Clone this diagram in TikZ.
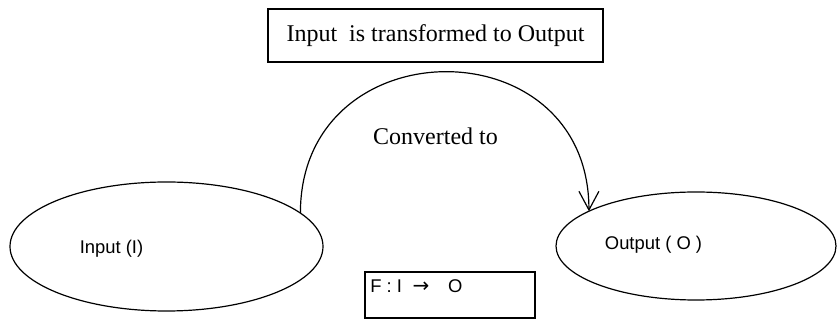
\documentclass[tikz,border=0pt]{standalone}
\usepackage{fontspec}
\setmainfont{Liberation Serif}
\setsansfont{Liberation Sans}
\newfontfamily\arrowfont{DejaVu Sans}
\usetikzlibrary{arrows.meta}
\usetikzlibrary{shapes.geometric}

\tikzset{
  framebox/.style={draw, line width=0.9pt, inner sep=0pt, outer sep=0pt},
  oval/.style={draw, ellipse, line width=0.9pt, inner sep=0pt, outer sep=0pt},
  serif/.style={font=\fontsize{18}{21}\selectfont\rmfamily, inner sep=0pt},
  sans/.style={font=\fontsize{13.8}{16}\selectfont\sffamily, inner sep=0pt, anchor=base},
}

\begin{document}
\begin{tikzpicture}[x=0.75pt, y=0.75pt]%
  \useasboundingbox (0,0) rectangle (838,320);

  %title box:
  \node[framebox, serif, minimum width=251.25pt, minimum height=39.75pt] (title) at (435.5,284.5) {Input\ \ is transformed to Output};

  %input and output sets
  \node[oval, minimum width=234.75pt, minimum height=96.75pt] (input) at (166.5,73.5) {};
  \node[sans] (inputtext) at (111.5,66.7) {Input (I)};
  \node[oval, minimum width=210pt, minimum height=81pt] (output) at (696,74) {};
  \node[sans] (outputtext) at (653.5,70) {Output ( O )};

  %mapping arc
  \draw[line width=0.9pt, -{Straight Barb[length=14pt, width=15pt]}] (input.14) .. controls +(0,187) and +(0,187) .. (output.162);
  \node[serif, anchor=base] (conv) at (435.5,175) {Converted to};

  %function box
  \node[framebox, minimum width=127.5pt, minimum height=34.5pt] (map) at (450,25) {};
  \node[sans, anchor=base west] (maptext) at (370,27) {F : I\hspace{8pt}{\arrowfont\fontsize{15}{16}\selectfont →}\hspace{14pt}O};
\end{tikzpicture}
\end{document}
